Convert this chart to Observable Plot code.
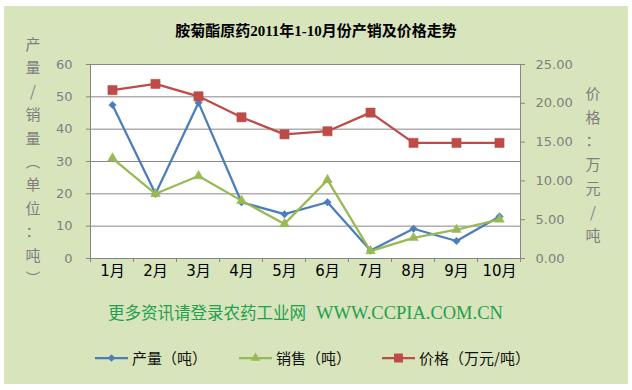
<!DOCTYPE html>
<html>
<head>
<meta charset="utf-8">
<script src="https://cdn.jsdelivr.net/npm/d3@7"></script>
<script src="https://cdn.jsdelivr.net/npm/@observablehq/plot@0.6"></script>
<style>
  html, body { margin: 0; padding: 0; background: #ffffff; }
  #wrap { position: relative; width: 632px; height: 390px; overflow: hidden; font-family: "Noto Sans CJK SC", "DejaVu Sans", sans-serif; }
  #panel { position: absolute; left: 4px; top: 6px; width: 624px; height: 378px; background: #d8e4bc; }
  #chart { position: absolute; left: 0; top: 0; }
  .abs { position: absolute; white-space: nowrap; }
  #title { left: 0; width: 632px; top: 19px; text-align: center; font-size: 15px; font-weight: bold; color: #000; font-family: "Liberation Serif", "Noto Sans CJK SC", serif; }
  .vchar { position: absolute; width: 20px; text-align: center; font-size: 15px; line-height: 20px; color: #7f7f7f; margin-left: -10px; margin-top: -10px; }
  #source { left: 108px; top: 300px; font-size: 16.5px; color: #22a04e; }
  #source .lat { font-family: "Liberation Serif", serif; font-size: 18.5px; margin-left: 10px; }
  #legend { left: 0; top: 347px; width: 632px; height: 24px; }
  .lgtext { position: absolute; top: 0; font-size: 15px; line-height: 22px; color: #111; }
</style>
</head>
<body>
<div id="wrap">
  <div id="panel"></div>
  <div id="chart"></div>
  <div id="title" class="abs">胺菊酯原药2011年1-10月份产销及价格走势</div>
  <div id="ltitle"></div>
  <div id="rtitle"></div>
  <div id="source" class="abs">更多资讯请登录农药工业网<span class="lat">WWW.CCPIA.COM.CN</span></div>
  <div id="legend" class="abs"></div>
</div>
<script>
// ---- data ----
const months = ["1月","2月","3月","4月","5月","6月","7月","8月","9月","10月"];
const production = [47.5, 20.0, 48.2, 17.4, 13.7, 17.4, 2.5, 9.2, 5.4, 13.0];
const sales = [31.0, 20.0, 25.5, 17.9, 10.7, 24.3, 2.3, 6.4, 8.9, 12.1];
const price = [21.7, 22.5, 20.9, 18.2, 16.0, 16.4, 18.8, 14.9, 14.9, 14.9];
const leftTicks = [0, 10, 20, 30, 40, 50, 60];
const rightTicks = [0, 5, 10, 15, 20, 25];
const leftTitle = ["产","量","/","销","量","︵","单","位","：","吨","︶"];
const rightTitle = ["价","格","：","万","元","/","吨"];
const seriesNames = ["产量（吨）", "销售（吨）", "价格（万元/吨）"];

const leftMax = 60, rightMax = 25, k = leftMax / rightMax;
const colors = { prod: "#4a7ebb", sales: "#98b954", price: "#be4b48" };
const grid = "#868686";
const tickColor = "#7f7f7f";

const prodData = months.map((m, i) => ({ m, v: production[i] }));
const salesData = months.map((m, i) => ({ m, v: sales[i] }));
const priceData = months.map((m, i) => ({ m, v: price[i] * k }));

const plot = Plot.plot({
  width: 632,
  height: 390,
  marginLeft: 90,
  marginRight: 112,
  marginTop: 64,
  marginBottom: 132,
  style: { background: "transparent", fontFamily: "DejaVu Sans, sans-serif" },
  x: { type: "point", domain: months, padding: 0.5, label: null },
  y: { domain: [0, leftMax], label: null },
  marks: [
    Plot.frame({ fill: "white", stroke: grid }),
    Plot.gridY(leftTicks.filter(d => d > 0), { stroke: grid, strokeOpacity: 1, strokeWidth: 1 }),
    Plot.axisY(leftTicks, { anchor: "left", tickSize: 4, tickPadding: 14, stroke: grid, color: tickColor, fontSize: 13, label: null }),
    Plot.axisY(rightTicks.map(d => d * k), { anchor: "right", tickSize: 4, tickPadding: 11, stroke: grid, color: tickColor, fontSize: 13, label: null, tickFormat: d => (d / k).toFixed(2), textAnchor: "start" }),
    Plot.axisX({ tickSize: 0, tickPadding: 7, fontSize: 15, color: "#000", fontFamily: "DejaVu Sans, Noto Sans CJK SC, sans-serif", label: null }),
    Plot.line(prodData, { x: "m", y: "v", stroke: colors.prod, strokeWidth: 2.25 }),
    Plot.dot(prodData, { x: "m", y: "v", symbol: "diamond2", r: 3.4, fill: colors.prod, stroke: colors.prod, strokeWidth: 0.5 }),
    Plot.line(salesData, { x: "m", y: "v", stroke: colors.sales, strokeWidth: 2.25 }),
    Plot.dot(salesData, { x: "m", y: "v", symbol: "triangle", r: 3.6, fill: colors.sales, stroke: colors.sales, strokeWidth: 0.5 }),
    Plot.line(priceData, { x: "m", y: "v", stroke: colors.price, strokeWidth: 2.25 }),
    Plot.dot(priceData, { x: "m", y: "v", symbol: "square", r: 5.2, fill: colors.price, stroke: colors.price, strokeWidth: 0.5 })
  ]
});
document.getElementById("chart").appendChild(plot);

// category boundary tick marks on x axis, from the library's scales
const xs = plot.scale("x"), ys = plot.scale("y");
const step = xs.step;
const y0 = ys.apply(0);
const svg = d3.select(plot);
const bounds = months.map(m => xs.apply(m) - step / 2).concat([xs.apply(months[months.length - 1]) + step / 2]);
svg.append("g").selectAll("line").data(bounds).join("line")
  .attr("x1", d => d).attr("x2", d => d)
  .attr("y1", y0).attr("y2", y0 + 4)
  .attr("stroke", grid);

// vertical axis titles
function vtitle(id, chars, cx, top, gap) {
  const el = document.getElementById(id);
  chars.forEach((c, i) => {
    const s = document.createElement("div");
    s.className = "vchar";
    s.textContent = c;
    s.style.left = cx + "px";
    s.style.top = (top + i * gap) + "px";
    el.appendChild(s);
  });
}
vtitle("ltitle", leftTitle, 33, 44, 23.4);
vtitle("rtitle", rightTitle, 593, 93, 23.7);

// legend
const lg = document.getElementById("legend");
const items = [
  { name: seriesNames[0], color: colors.prod, sym: d3.symbolDiamond2, size: 36, x: 95 },
  { name: seriesNames[1], color: colors.sales, sym: d3.symbolTriangle, size: 40, x: 239 },
  { name: seriesNames[2], color: colors.price, sym: d3.symbolSquare, size: 80, x: 382 }
];
const ls = d3.select(lg).append("svg").attr("width", 632).attr("height", 24).style("position", "absolute").style("left", 0).style("top", 0);
items.forEach(it => {
  ls.append("line").attr("x1", it.x).attr("x2", it.x + 33).attr("y1", 11).attr("y2", 11).attr("stroke", it.color).attr("stroke-width", 2.25);
  ls.append("path").attr("d", d3.symbol(it.sym, it.size)()).attr("transform", `translate(${it.x + 16.5},11)`).attr("fill", it.color);
  const t = document.createElement("div");
  t.className = "lgtext";
  t.textContent = it.name;
  t.style.left = (it.x + 37) + "px";
  lg.appendChild(t);
});
</script>
</body>
</html>
